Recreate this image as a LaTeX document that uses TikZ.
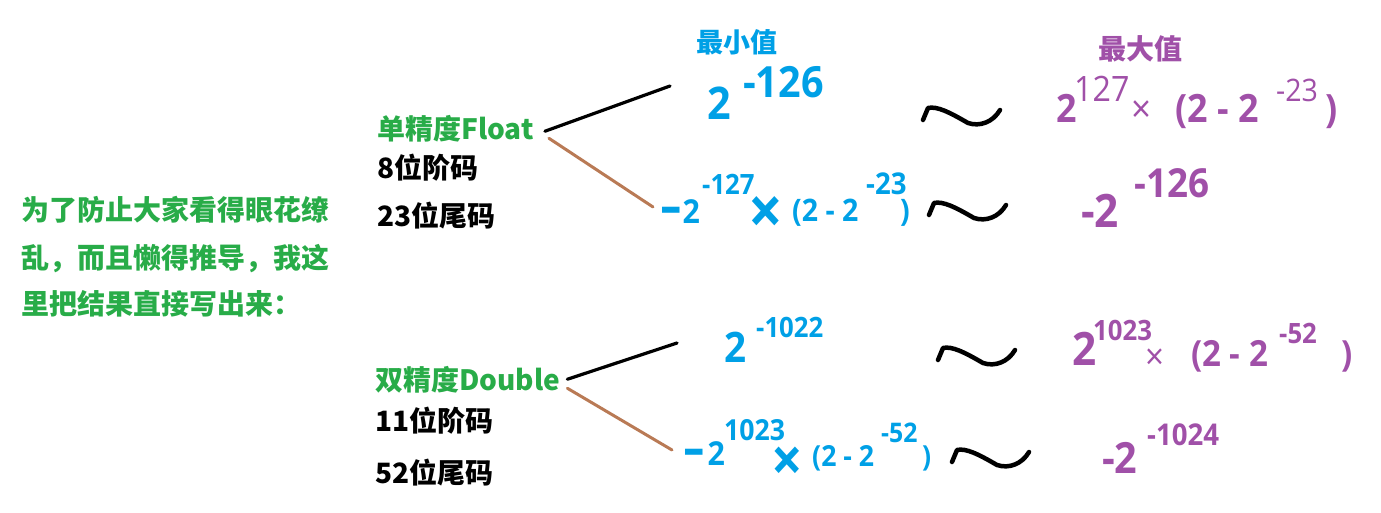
\documentclass[tikz,border=0pt]{standalone}
\usepackage{fontspec}
\usepackage{graphicx}
\setmainfont{Noto Sans CJK SC}
\newfontfamily\numf[FakeStretch=0.92]{Open Sans}
\usetikzlibrary{calc}
\definecolor{tgreen}{RGB}{40,172,72}
\definecolor{tblue}{RGB}{0,160,230}
\definecolor{tpurple}{RGB}{160,80,168}
\definecolor{tbrown}{RGB}{185,122,85}
\newcommand\wdash{\scalebox{2.2}[1.5]{-}}
\tikzset{
  txt/.style={inner sep=0pt, anchor=base west},
  cj/.style={txt, font={\fontsize{#1}{#1}\selectfont\bfseries}},
  bb/.style={txt, text=tblue, font={\fontsize{#1}{#1}\selectfont\numf\bfseries}},
  pb/.style={txt, text=tpurple, font={\fontsize{#1}{#1}\selectfont\numf\bfseries}},
  pr/.style={txt, text=tpurple, font={\fontsize{#1}{#1}\selectfont\numf}},
  blk/.style={draw=black, line width=3.2pt, line cap=round},
  brn/.style={draw=tbrown, line width=3pt, line cap=round},
  squig/.pic={\draw[line width=4.5pt, line cap=round, line join=round]
     (0,0) -- (5,-12) .. controls (14,-14) and (26,-8) .. (45,3)
     .. controls (57,7) and (70,2) .. (77,-10);}
}
\begin{document}
\begin{tikzpicture}[x=1pt,y=-1pt]
\useasboundingbox (0,0) rectangle (1381,513);
% left explanation
\node[cj=28, text=tgreen] (g1) at (21,220) {为了防止大家看得眼花缭};
\node[cj=28, text=tgreen] (g2) at (21,268) {乱，而且懒得推导，我这};
\node[cj=28, text=tgreen] (g3) at (21,314) {里把结果直接写出来：};
% headings
\node[cj=27, text=tblue] (minl) at (696,53) {最小值};
\node[cj=28, text=tpurple] (maxl) at (1098,60) {最大值};
% float block
\node[cj=28, text=tgreen] (float) at (377,140) {单精度Float};
\node[cj=28] (f8) at (377,179) {8位阶码};
\node[cj=28] (f23) at (377,226) {23位尾码};
% double block
\node[cj=28, text=tgreen] (double) at (375,390) {双精度Double};
\node[cj=28] (d11) at (375,431) {11位阶码};
\node[cj=28] (d52) at (375,483) {52位尾码};
% row 1 (float, positive min/max)
\node[bb=45] (r1a) at (707,120) {2};
\node[bb=43] (r1b) at (743,98) {-126};
\pic at (923,120) {squig};
\node[pb=39] (r1c) at (1056,123) {2};
\node[pr=35] (r1d) at (1074,102) {127};
\node[pr=38] (r1e) at (1131,123) {×};
\node[pb=39] (r1f) at (1175,123) {(2 - 2};
\node[pr=31] (r1g) at (1276,102) {-23};
\node[pb=39] (r1h) at (1325,123) {)};
% row 2 (float, negative)
\node[bb=33] (r2a) at (660,223) {\wdash\kern1pt 2};
\node[bb=28] (r2b) at (702,195) {-127};
\node[bb=66] (r2c) at (748,234) {×};
\node[bb=31] (r2d) at (792,222) {(2 - 2};
\node[bb=30] (r2e) at (866,195) {-23};
\node[bb=31] (r2f) at (900,222) {)};
\pic at (929,215) {squig};
\node[pb=46] (r2g) at (1081,227) {-2};
\node[pb=40] (r2h) at (1134,198) {-126};
% row 3 (double, positive)
\node[bb=42] (r3a) at (724,362) {2};
\node[bb=28] (r3b) at (756,337) {-1022};
\pic at (938,360) {squig};
\node[pb=46] (r3c) at (1072,365) {2};
\node[pb=28] (r3d) at (1093,340) {1023};
\node[pr=36] (r3e) at (1145,369) {×};
\node[pb=36] (r3f) at (1191,366) {(2 - 2};
\node[pb=28] (r3g) at (1279,343) {-52};
\node[pb=36] (r3h) at (1341,366) {)};
% row 4 (double, negative)
\node[bb=33] (r4a) at (683,465) {\wdash\kern3pt 2};
\node[bb=29] (r4b) at (724,440) {1023};
\node[bb=60] (r4c) at (771,481) {×};
\node[bb=29] (r4d) at (812,466) {(2 - 2};
\node[bb=27] (r4e) at (881,442) {-52};
\node[bb=29] (r4f) at (922,466) {)};
\pic at (952,462) {squig};
\node[pb=43] (r4g) at (1102,473) {-2};
\node[pb=30] (r4h) at (1147,445) {-1024};
% connectors
\coordinate (fTop) at (670,86);
\coordinate (fBot) at (653,207);
\coordinate (dTop) at (677,343);
\coordinate (dBot) at (672,450);
\draw[blk] ($(float.east)+(11,2)$) -- (fTop);
\draw[brn] ($(float.east)+(15,9)$) -- (fBot);
\draw[blk] ($(double.east)+(7,0)$) -- (dTop);
\draw[brn] ($(double.east)+(7,9)$) -- (dBot);
\end{tikzpicture}
\end{document}
